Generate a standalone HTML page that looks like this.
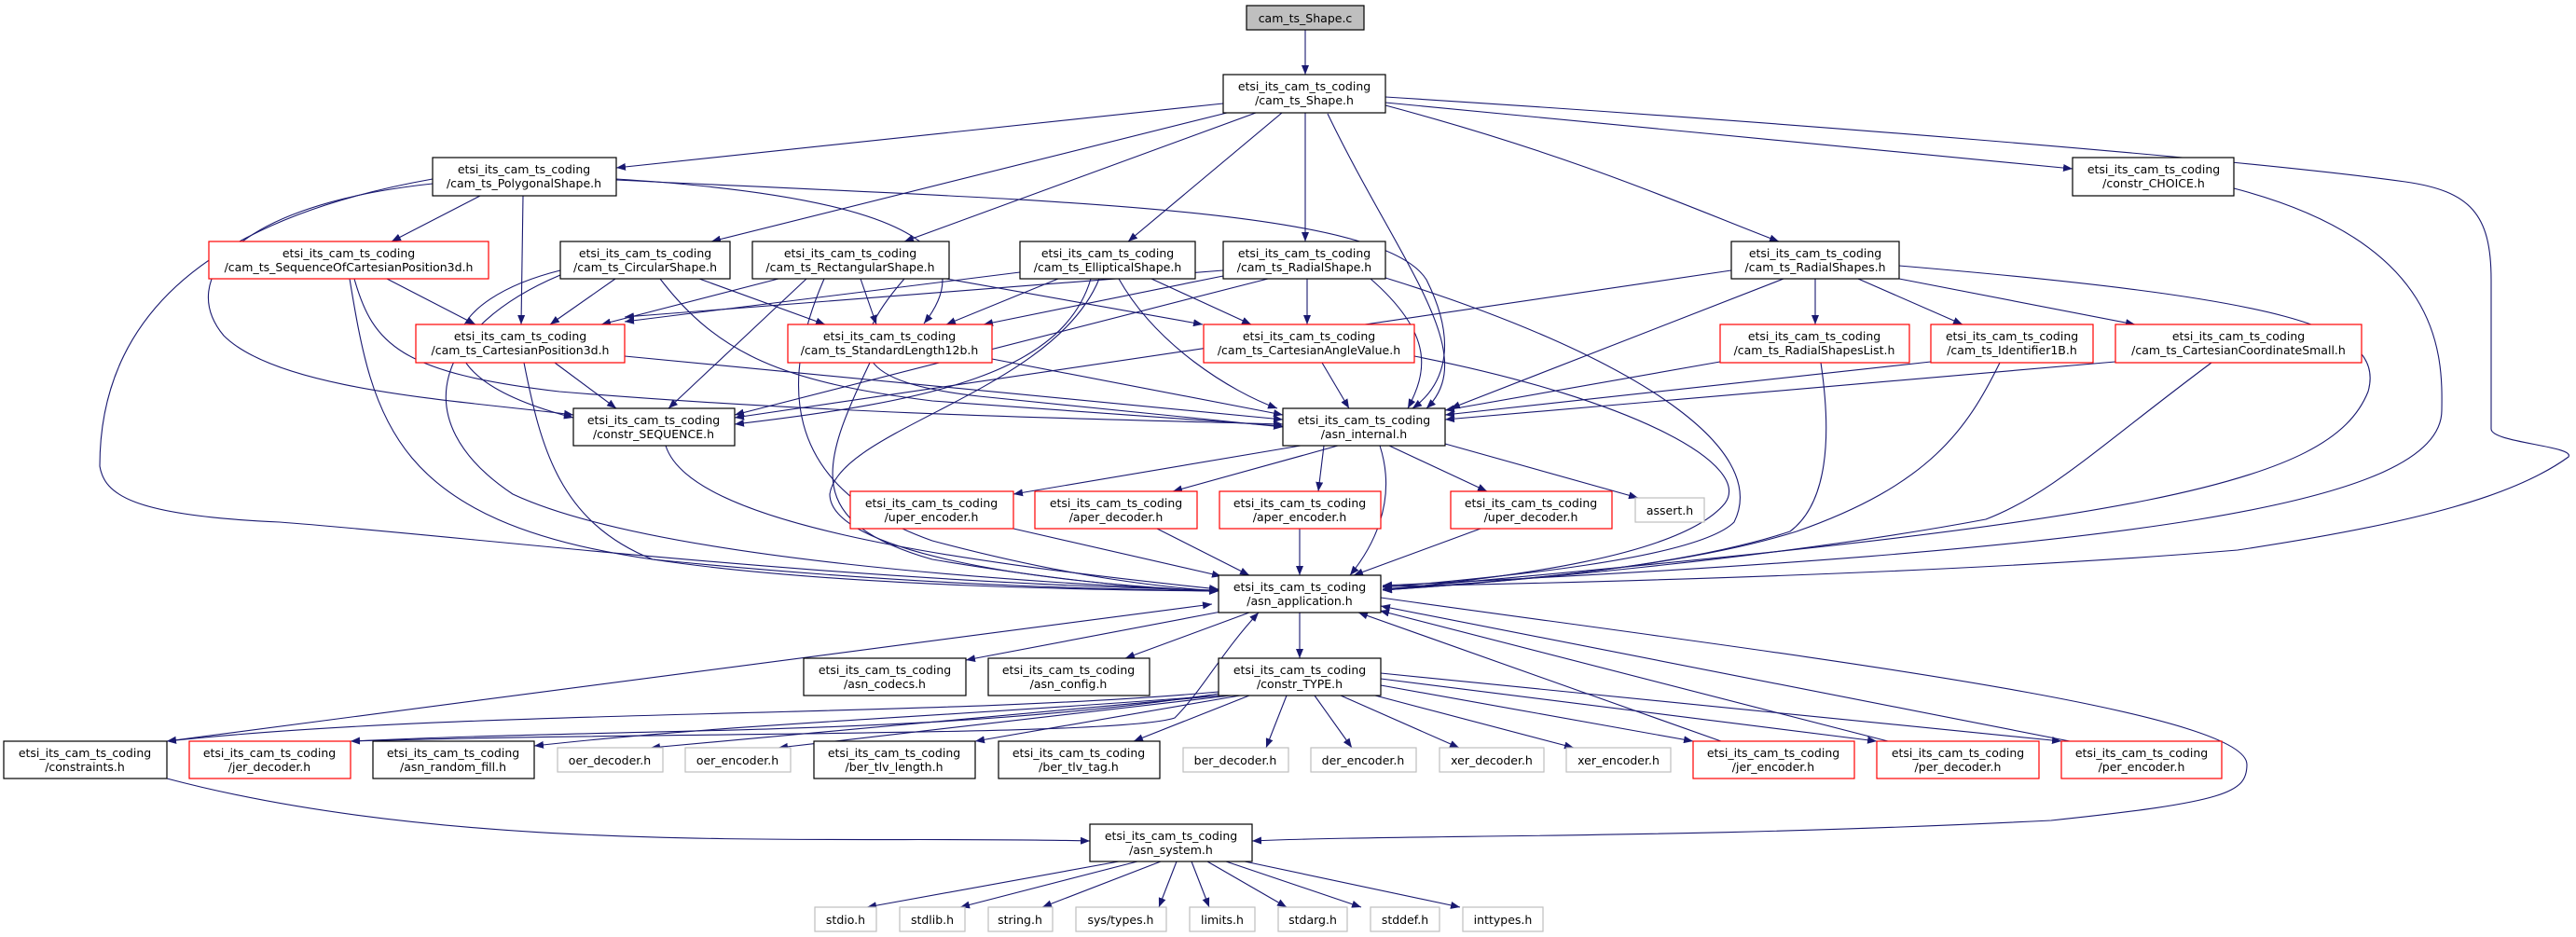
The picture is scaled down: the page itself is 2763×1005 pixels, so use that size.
<!DOCTYPE html>
<html><head><meta charset="utf-8"><style>
html,body{margin:0;padding:0;background:#fff;}
svg{display:block;}
text{font-family:"DejaVu Sans","Liberation Sans",sans-serif;font-size:12.5px;fill:#000;text-anchor:middle;}
.e{fill:none;stroke:#191970;stroke-width:1.1;marker-end:url(#a);}
.b{fill:#fff;stroke:#000;stroke-width:1.2;}
.r{fill:#fff;stroke:#ff0000;stroke-width:1.2;}
.g{fill:#fff;stroke:#bfbfbf;stroke-width:1.2;}
</style></head><body>
<svg width="2763" height="1005" viewBox="0 0 2763 1005" xmlns="http://www.w3.org/2000/svg">
<defs><marker id="a" markerUnits="userSpaceOnUse" markerWidth="11" markerHeight="8" refX="10" refY="4" orient="auto"><path d="M0,0 L10,4 L0,8 z" fill="#191970"/></marker>
<marker id="s" markerUnits="userSpaceOnUse" markerWidth="11" markerHeight="8" refX="0" refY="4" orient="auto"><path d="M10,0 L0,4 L10,8 z" fill="#191970"/></marker></defs>

<!-- edges -->
<g>
<path class="e" d="M1400,32 L1400,80"/>
<path class="e" d="M1312,111 L661,180"/>
<path class="e" d="M1316,121 L763,259"/>
<path class="e" d="M1347,121 L970,259"/>
<path class="e" d="M1375,121 L1210,259"/>
<path class="e" d="M1400,121 L1400,259"/>
<path class="e" d="M1424,122 C1500,280 1590,380 1530,438"/>
<path class="e" d="M1486,113 C1700,170 1830,230 1908,259"/>
<path class="e" d="M1486,110 L2223,181"/>
<path class="e" d="M1486,104 C1900,130 2400,170 2580,195 C2650,205 2672,230 2672,300 L2672,460 C2672,475 2762,478 2755,490 C2700,530 2600,560 2400,590 C2100,615 1700,625 1483,629"/>
<path class="e" d="M515,210 L420,259"/>
<path class="e" d="M561,210 L559,348"/>
<path class="e" d="M661,192 C950,210 1060,260 991,347"/>
<path class="e" d="M661,193 C1100,215 1480,220 1530,300 C1570,380 1540,420 1515,438"/>
<path class="e" d="M464,197 C250,220 190,300 240,360 C300,420 500,430 615,445"/>
<path class="e" d="M464,192 C232,233 107,333 107,500 C112,530 140,553 300,560 C500,575 900,625 1307,633"/>
<path class="e" d="M415,299 L510,348"/>
<path class="e" d="M375,299 C400,450 420,560 700,600 C1000,630 1200,632 1307,634"/>
<path class="e" d="M380,299 C400,370 430,400 600,420 C900,445 1200,450 1376,455"/>
<path class="e" d="M660,299 L590,348"/>
<path class="e" d="M750,299 L885,348"/>
<path class="e" d="M601,290 C480,320 430,400 615,448"/>
<path class="e" d="M708,299 C770,380 840,410 1000,430 C1200,445 1300,452 1376,457"/>
<path class="e" d="M601,295 C470,350 430,450 550,530 C700,600 1100,625 1307,634"/>
<path class="e" d="M835,299 L645,348"/>
<path class="e" d="M923,299 L940,348"/>
<path class="e" d="M1015,299 L1290,348"/>
<path class="e" d="M865,299 L717,438"/>
<path class="e" d="M970,299 C900,380 920,410 1050,425 C1200,440 1300,450 1376,458"/>
<path class="e" d="M884,299 C840,400 830,520 1000,580 C1150,620 1250,630 1307,634"/>
<path class="e" d="M1094,292 L670,345"/>
<path class="e" d="M1135,299 L1015,348"/>
<path class="e" d="M1235,299 L1342,348"/>
<path class="e" d="M1170,299 C1140,400 1000,430 788,455"/>
<path class="e" d="M1200,299 C1240,370 1320,420 1370,438"/>
<path class="e" d="M1179,299 C1130,420 900,460 890,530 C890,590 1100,625 1307,634"/>
<path class="e" d="M1312,290 L670,340"/>
<path class="e" d="M1312,296 L1055,348"/>
<path class="e" d="M1402,299 L1402,348"/>
<path class="e" d="M1360,299 L788,445"/>
<path class="e" d="M1470,299 C1540,360 1530,400 1510,438"/>
<path class="e" d="M1486,298 C1750,380 1900,480 1860,560 C1820,600 1600,620 1483,630"/>
<path class="e" d="M1857,290 L788,448"/>
<path class="e" d="M1913,299 L1556,438"/>
<path class="e" d="M1947,299 L1947,348"/>
<path class="e" d="M1993,299 L2105,348"/>
<path class="e" d="M2037,299 L2290,348"/>
<path class="e" d="M2037,285 C2450,320 2560,350 2540,420 C2500,520 2300,560 1483,632"/>
<path class="e" d="M2396,202 C2620,260 2620,380 2619,440 C2619,540 2300,590 1483,628"/>
<path class="e" d="M595,389 L661,438"/>
<path class="e" d="M670,382 L1376,450"/>
<path class="e" d="M562,389 C580,480 600,560 700,600 C900,630 1200,633 1307,634"/>
<path class="e" d="M1064,385 L1376,445"/>
<path class="e" d="M933,389 C880,500 860,560 1000,600 C1150,625 1250,633 1307,634"/>
<path class="e" d="M1418,389 L1447,438"/>
<path class="e" d="M1517,382 C1760,430 1880,500 1850,540 C1800,600 1600,620 1483,633"/>
<path class="e" d="M1845,388 L1550,440"/>
<path class="e" d="M1953,389 C1965,470 1960,540 1920,570 C1800,610 1600,625 1483,633"/>
<path class="e" d="M2071,388 L1550,445"/>
<path class="e" d="M2145,389 C2110,460 2070,520 1927,570 C1800,610 1600,625 1483,632"/>
<path class="e" d="M2269,388 L1550,450"/>
<path class="e" d="M2372,389 C2250,480 2200,530 2130,557 C1900,600 1600,625 1483,633"/>
<path class="e" d="M714,478 C740,560 1000,600 1307,632"/>
<path class="e" d="M1395,478 L1087,530"/>
<path class="e" d="M1435,478 L1258,527"/>
<path class="e" d="M1420,478 L1414,527"/>
<path class="e" d="M1490,478 L1595,527"/>
<path class="e" d="M1550,476 L1757,534"/>
<path class="e" d="M1480,478 C1500,540 1470,590 1448,617"/>
<path class="e" d="M1087,567 L1310,618"/>
<path class="e" d="M1241,567 L1340,617"/>
<path class="e" d="M1394,567 L1394,617"/>
<path class="e" d="M1588,567 L1452,617"/>
<path class="e" d="M1310,656 L1036,708"/>
<path class="e" d="M1340,657 L1207,706"/>
<path class="e" d="M1394,657 L1394,706"/>
<path class="e" d="M1300,648 L179,795" style="marker-start:url(#s)"/>
<path class="e" d="M1481,641 C1900,700 2410,760 2410,820 C2410,850 2390,860 2200,880 C1800,900 1500,895 1343,902"/>
<path class="e" d="M1307,742 C1000,770 500,760 179,795"/>
<path class="e" d="M1307,744 C1000,790 700,780 376,795"/>
<path class="e" d="M1307,746 C1000,770 800,775 573,800"/>
<path class="e" d="M1310,746 L698,802"/>
<path class="e" d="M1320,746 L835,802"/>
<path class="e" d="M1330,746 L1046,795"/>
<path class="e" d="M1340,746 L1216,795"/>
<path class="e" d="M1380,746 L1358,802"/>
<path class="e" d="M1410,746 L1450,802"/>
<path class="e" d="M1438,746 L1565,802"/>
<path class="e" d="M1475,746 L1688,802"/>
<path class="e" d="M1481,735 L1816,795"/>
<path class="e" d="M1481,728 L2013,795"/>
<path class="e" d="M1481,722 L2211,795"/>
<path class="e" d="M1846,795 L1457,657"/>
<path class="e" d="M2025,795 L1480,655"/>
<path class="e" d="M2220,795 L1481,650"/>
<path class="e" d="M376,795 C700,785 1200,790 1260,770 C1290,740 1310,700 1350,657"/>
<path class="e" d="M179,835 C500,920 900,895 1169,902"/>
<path class="e" d="M1200,924 L930,973"/>
<path class="e" d="M1220,924 L1030,973"/>
<path class="e" d="M1245,924 L1118,973"/>
<path class="e" d="M1262,924 L1243,973"/>
<path class="e" d="M1278,924 L1297,973"/>
<path class="e" d="M1295,924 L1380,973"/>
<path class="e" d="M1315,924 L1460,973"/>
<path class="e" d="M1335,924 L1566,973"/>
</g>

<!-- nodes -->
<g>
<rect x="1337" y="6" width="126" height="26" fill="#bfbfbf" stroke="#000" stroke-width="1.2"/><text x="1400" y="24">cam_ts_Shape.c</text>

<rect class="b" x="1312" y="80" width="174" height="41"/><text x="1399" y="97">etsi_its_cam_ts_coding</text><text x="1399" y="112">/cam_ts_Shape.h</text>
<rect class="b" x="464" y="169" width="197" height="41"/><text x="562" y="186">etsi_its_cam_ts_coding</text><text x="562" y="201">/cam_ts_PolygonalShape.h</text>
<rect class="b" x="2223" y="169" width="173" height="41"/><text x="2310" y="186">etsi_its_cam_ts_coding</text><text x="2310" y="201">/constr_CHOICE.h</text>

<rect class="r" x="224" y="259" width="300" height="40"/><text x="374" y="276">etsi_its_cam_ts_coding</text><text x="374" y="291">/cam_ts_SequenceOfCartesianPosition3d.h</text>
<rect class="b" x="601" y="259" width="182" height="40"/><text x="692" y="276">etsi_its_cam_ts_coding</text><text x="692" y="291">/cam_ts_CircularShape.h</text>
<rect class="b" x="807" y="259" width="211" height="40"/><text x="912" y="276">etsi_its_cam_ts_coding</text><text x="912" y="291">/cam_ts_RectangularShape.h</text>
<rect class="b" x="1094" y="259" width="188" height="40"/><text x="1188" y="276">etsi_its_cam_ts_coding</text><text x="1188" y="291">/cam_ts_EllipticalShape.h</text>
<rect class="b" x="1312" y="259" width="174" height="40"/><text x="1399" y="276">etsi_its_cam_ts_coding</text><text x="1399" y="291">/cam_ts_RadialShape.h</text>
<rect class="b" x="1857" y="259" width="180" height="40"/><text x="1947" y="276">etsi_its_cam_ts_coding</text><text x="1947" y="291">/cam_ts_RadialShapes.h</text>

<rect class="r" x="446" y="348" width="224" height="41"/><text x="558" y="365">etsi_its_cam_ts_coding</text><text x="558" y="380">/cam_ts_CartesianPosition3d.h</text>
<rect class="r" x="845" y="348" width="219" height="41"/><text x="954" y="365">etsi_its_cam_ts_coding</text><text x="954" y="380">/cam_ts_StandardLength12b.h</text>
<rect class="r" x="1291" y="348" width="226" height="41"/><text x="1404" y="365">etsi_its_cam_ts_coding</text><text x="1404" y="380">/cam_ts_CartesianAngleValue.h</text>
<rect class="r" x="1845" y="348" width="203" height="41"/><text x="1946" y="365">etsi_its_cam_ts_coding</text><text x="1946" y="380">/cam_ts_RadialShapesList.h</text>
<rect class="r" x="2071" y="348" width="174" height="41"/><text x="2158" y="365">etsi_its_cam_ts_coding</text><text x="2158" y="380">/cam_ts_Identifier1B.h</text>
<rect class="r" x="2269" y="348" width="264" height="41"/><text x="2401" y="365">etsi_its_cam_ts_coding</text><text x="2401" y="380">/cam_ts_CartesianCoordinateSmall.h</text>

<rect class="b" x="615" y="438" width="173" height="40"/><text x="701" y="455">etsi_its_cam_ts_coding</text><text x="701" y="470">/constr_SEQUENCE.h</text>
<rect class="b" x="1376" y="438" width="174" height="40"/><text x="1463" y="455">etsi_its_cam_ts_coding</text><text x="1463" y="470">/asn_internal.h</text>

<rect class="r" x="912" y="527" width="175" height="40"/><text x="999" y="544">etsi_its_cam_ts_coding</text><text x="999" y="559">/uper_encoder.h</text>
<rect class="r" x="1110" y="527" width="174" height="40"/><text x="1197" y="544">etsi_its_cam_ts_coding</text><text x="1197" y="559">/aper_decoder.h</text>
<rect class="r" x="1308" y="527" width="173" height="40"/><text x="1394" y="544">etsi_its_cam_ts_coding</text><text x="1394" y="559">/aper_encoder.h</text>
<rect class="r" x="1556" y="527" width="173" height="40"/><text x="1642" y="544">etsi_its_cam_ts_coding</text><text x="1642" y="559">/uper_decoder.h</text>
<rect class="g" x="1754" y="534" width="74" height="26"/><text x="1791" y="552">assert.h</text>

<rect class="b" x="1307" y="617" width="174" height="40"/><text x="1394" y="634">etsi_its_cam_ts_coding</text><text x="1394" y="649">/asn_application.h</text>

<rect class="b" x="862" y="706" width="174" height="40"/><text x="949" y="723">etsi_its_cam_ts_coding</text><text x="949" y="738">/asn_codecs.h</text>
<rect class="b" x="1060" y="706" width="173" height="40"/><text x="1146" y="723">etsi_its_cam_ts_coding</text><text x="1146" y="738">/asn_config.h</text>
<rect class="b" x="1307" y="706" width="174" height="40"/><text x="1394" y="723">etsi_its_cam_ts_coding</text><text x="1394" y="738">/constr_TYPE.h</text>

<rect class="b" x="4" y="795" width="175" height="40"/><text x="91" y="812">etsi_its_cam_ts_coding</text><text x="91" y="827">/constraints.h</text>
<rect class="r" x="203" y="795" width="173" height="40"/><text x="289" y="812">etsi_its_cam_ts_coding</text><text x="289" y="827">/jer_decoder.h</text>
<rect class="b" x="400" y="795" width="173" height="40"/><text x="486" y="812">etsi_its_cam_ts_coding</text><text x="486" y="827">/asn_random_fill.h</text>
<rect class="g" x="598" y="802" width="113" height="26"/><text x="654" y="820">oer_decoder.h</text>
<rect class="g" x="735" y="802" width="113" height="26"/><text x="791" y="820">oer_encoder.h</text>
<rect class="b" x="873" y="795" width="173" height="40"/><text x="959" y="812">etsi_its_cam_ts_coding</text><text x="959" y="827">/ber_tlv_length.h</text>
<rect class="b" x="1071" y="795" width="173" height="40"/><text x="1157" y="812">etsi_its_cam_ts_coding</text><text x="1157" y="827">/ber_tlv_tag.h</text>
<rect class="g" x="1269" y="802" width="113" height="26"/><text x="1325" y="820">ber_decoder.h</text>
<rect class="g" x="1406" y="802" width="113" height="26"/><text x="1462" y="820">der_encoder.h</text>
<rect class="g" x="1544" y="802" width="112" height="26"/><text x="1600" y="820">xer_decoder.h</text>
<rect class="g" x="1680" y="802" width="112" height="26"/><text x="1736" y="820">xer_encoder.h</text>
<rect class="r" x="1816" y="795" width="173" height="40"/><text x="1902" y="812">etsi_its_cam_ts_coding</text><text x="1902" y="827">/jer_encoder.h</text>
<rect class="r" x="2013" y="795" width="174" height="40"/><text x="2100" y="812">etsi_its_cam_ts_coding</text><text x="2100" y="827">/per_decoder.h</text>
<rect class="r" x="2211" y="795" width="172" height="40"/><text x="2297" y="812">etsi_its_cam_ts_coding</text><text x="2297" y="827">/per_encoder.h</text>

<rect class="b" x="1169" y="884" width="174" height="40"/><text x="1256" y="901">etsi_its_cam_ts_coding</text><text x="1256" y="916">/asn_system.h</text>

<rect class="g" x="874" y="973" width="66" height="26"/><text x="907" y="991">stdio.h</text>
<rect class="g" x="965" y="973" width="70" height="26"/><text x="1000" y="991">stdlib.h</text>
<rect class="g" x="1060" y="973" width="69" height="26"/><text x="1094" y="991">string.h</text>
<rect class="g" x="1154" y="973" width="97" height="26"/><text x="1202" y="991">sys/types.h</text>
<rect class="g" x="1276" y="973" width="70" height="26"/><text x="1311" y="991">limits.h</text>
<rect class="g" x="1371" y="973" width="74" height="26"/><text x="1408" y="991">stdarg.h</text>
<rect class="g" x="1470" y="973" width="74" height="26"/><text x="1507" y="991">stddef.h</text>
<rect class="g" x="1569" y="973" width="86" height="26"/><text x="1612" y="991">inttypes.h</text>
</g>
</svg>
</body></html>
